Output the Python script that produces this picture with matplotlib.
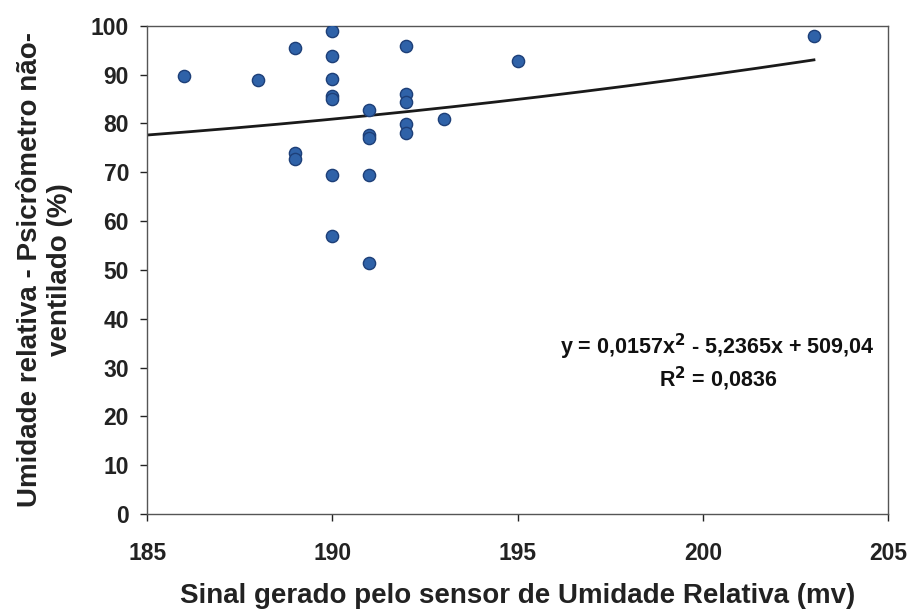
import numpy as np
import matplotlib
matplotlib.use("Agg")
import matplotlib.pyplot as plt

plt.rcParams['font.family'] = ['Liberation Sans', 'DejaVu Sans']
plt.rcParams['font.weight'] = 'bold'

# sensor signal (mV) and measured relative humidity (%)
sinal = [186, 188, 189, 189, 189, 190, 190, 190, 190, 190, 190, 190,
         191, 191, 191, 191, 191, 192, 192, 192, 192, 192, 193, 195, 203]
umidade = [89.8, 88.8, 95.4, 74.0, 72.8, 98.9, 93.8, 89.1, 85.6, 85.0, 69.5, 56.9,
           82.7, 77.6, 77.0, 69.5, 51.5, 95.8, 86.1, 84.3, 79.8, 78.1, 81.0, 92.7, 97.8]

# polynomial trendline coefficients as printed on the chart
coef = [0.0157, -5.2365, 509.04]
r2 = 0.0836

fig = plt.figure(figsize=(9.14, 6.13), dpi=100)
ax = fig.add_axes([0.161, 0.1615, 0.8106, 0.7965])

xs = np.linspace(185, max(sinal), 200)
ax.plot(xs, np.polyval(coef, xs), color='#1a1a1a', lw=2.0, zorder=2)
ax.plot(sinal, umidade, 'o', ms=8.8, color='#2f62a8', mec='#1d3f78', mew=1.0, zorder=3)

ax.set_xlim(185, 205)
ax.set_ylim(0, 100)
ax.set_xticks(range(185, 206, 5))
ax.set_yticks(range(0, 101, 10))
ax.tick_params(direction='out', length=5, width=1, labelsize=16.5, colors='#222222')
ax.tick_params(axis='x', pad=15)
ax.tick_params(axis='y', pad=8)
for lab in ax.get_xticklabels() + ax.get_yticklabels():
    lab.set_fontweight('bold')
for s in ax.spines.values():
    s.set_color('#555555')
    s.set_linewidth(1.0)

ax.set_xlabel('Sinal gerado pelo sensor de Umidade Relativa (mv)', fontsize=20,
              fontweight='bold', labelpad=13, color='#222222')
ax.set_ylabel('Umidade relativa - Psicrômetro não-\nventilado (%)', fontsize=20,
              fontweight='bold', color='#222222', linespacing=1.2)
ax.yaxis.set_label_coords(-0.1, 0.5)

eq = 'y = 0,0157x$^{\\mathbf{2}}$ - 5,2365x + 509,04\nR$^{\\mathbf{2}}$ = 0,0836'
ax.text(0.77, 0.31, eq, transform=ax.transAxes, ha='center', va='center',
        fontsize=15.5, fontweight='bold', linespacing=1.15, color='#111111')

fig.savefig('out.png', dpi=100)
